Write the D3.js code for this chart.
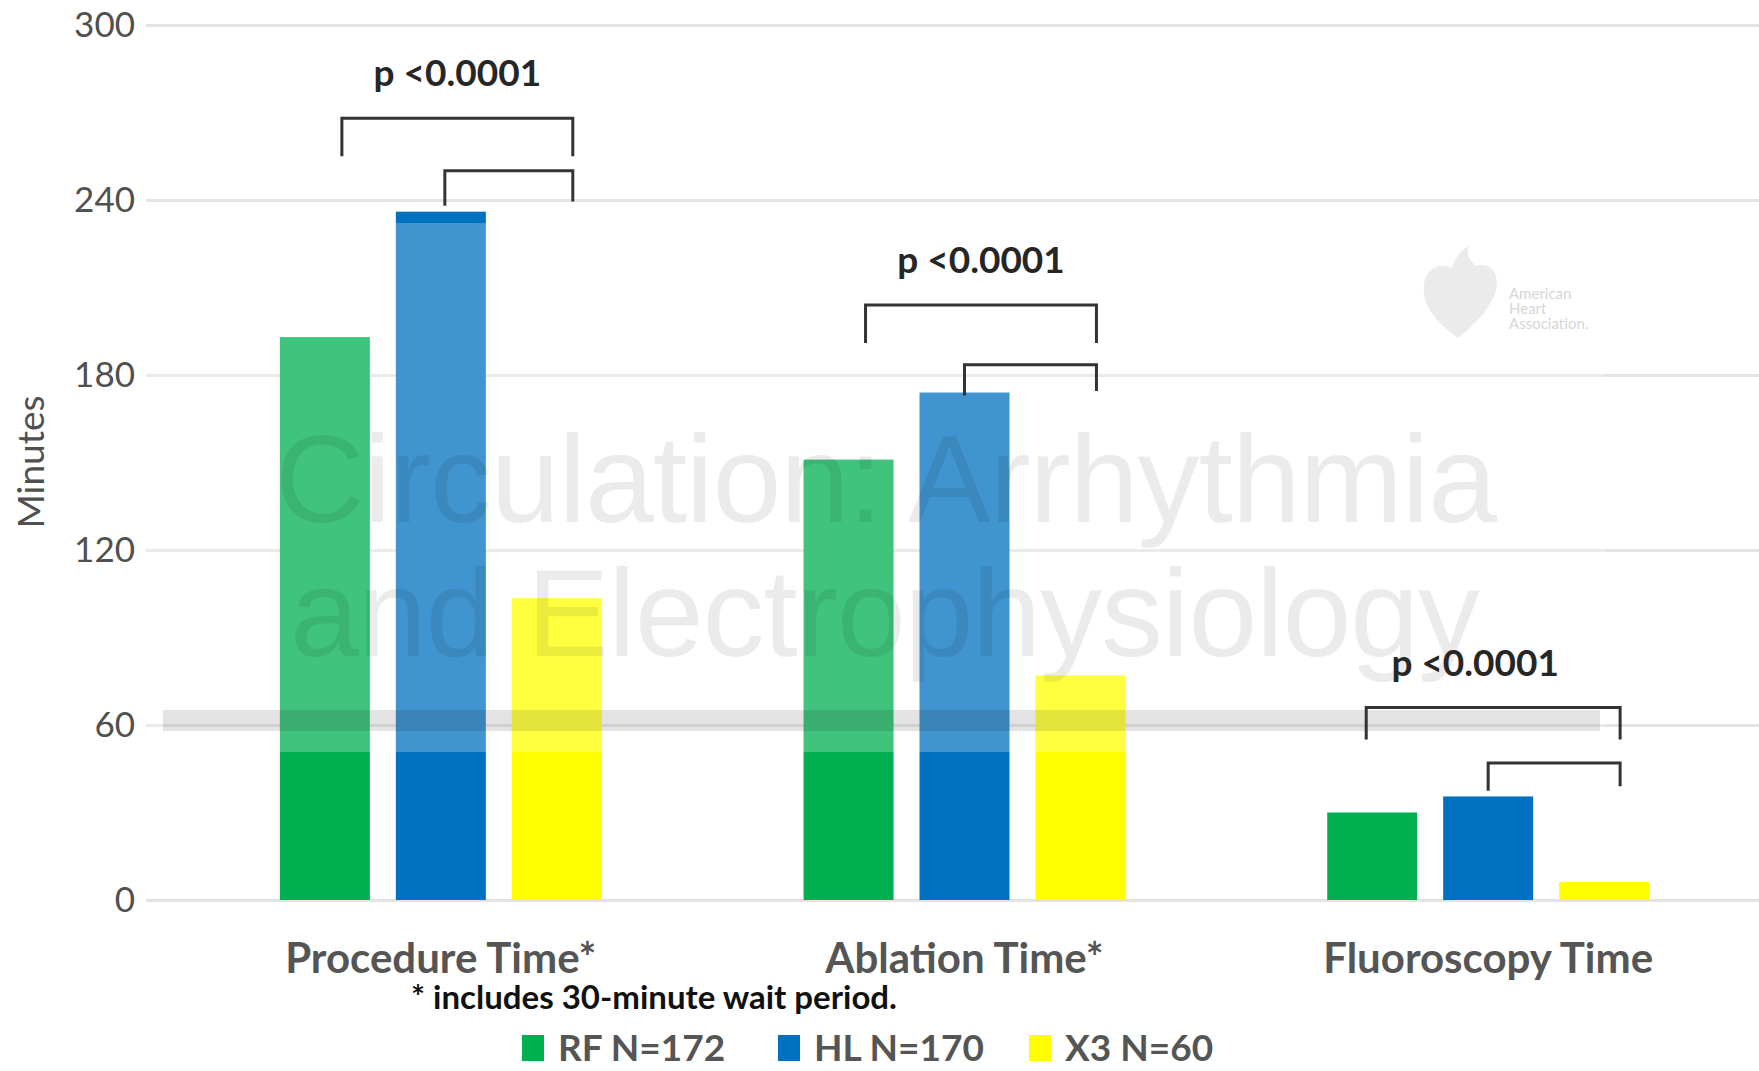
<!DOCTYPE html>
<html>
<head>
<meta charset="utf-8">
<script src="https://cdn.jsdelivr.net/npm/d3@7"></script>
<style>
  body { margin: 0; background: #fff; }
  svg { display: block; font-family: Lato, "Open Sans", sans-serif; }
</style>
</head>
<body>
<script>

var svgWidth = 1759;
var svgHeight = 1071;

// data
var categories = ["Procedure Time*", "Ablation Time*", "Fluoroscopy Time"];
var series = ["RF N=172", "HL N=170", "X3 N=60"];
var rfValues = [193, 151, 30];
var hlValues = [236, 174, 35.5];
var x3Values = [103.5, 77, 6.2];
var yTicks = [0, 60, 120, 180, 240, 300];
var pLabels = ["p <0.0001", "p <0.0001", "p <0.0001"];
// bracket levels in minutes: [outer top, outer foot, inner top, inner foot]
var bracketLevels = [[268, 255, 250, 238], [204, 191, 183.5, 173], [66, 55, 47, 37.5]];

var colors = ["#00b050", "#0070c0", "#ffff00"];

var svg = d3.select("body")
  .append("svg")
  .attr("width", svgWidth)
  .attr("height", svgHeight);

// scales
var yScale = d3.scaleLinear()
  .domain([0, 300])
  .range([900, 25]);

var xScale = d3.scaleBand()
  .domain(categories)
  .range([179, 1750]);

var xInner = d3.scaleBand()
  .domain(series)
  .range([0, xScale.bandwidth()])
  .paddingInner(0.224)
  .paddingOuter(0.87);

// gridlines + tick labels
var yAxis = d3.axisLeft(yScale)
  .tickValues(yTicks)
  .tickSize(-(svgWidth - 146))
  .tickPadding(11);

var gY = svg.append("g")
  .attr("transform", "translate(146,0)")
  .call(yAxis);
gY.select(".domain").remove();
gY.selectAll(".tick line").attr("stroke", "#e3e3e3").attr("stroke-width", 3);
gY.selectAll(".tick text")
  .attr("fill", "#505050")
  .style("font-size", "35px")
  .style("font-family", "Lato, sans-serif");

svg.append("text")
  .attr("transform", "translate(44," + 462 + ") rotate(-90)")
  .attr("text-anchor", "middle")
  .attr("fill", "#505050")
  .style("font-size", "37px")
  .text("Minutes");

// bars
var valuesBySeries = [rfValues, hlValues, x3Values];
var rows = [];
categories.forEach(function(c, i) {
  series.forEach(function(s, j) {
    rows.push({cat: c, ser: s, value: valuesBySeries[j][i], color: colors[j]});
  });
});

svg.append("g").selectAll("rect")
  .data(rows)
  .enter().append("rect")
  .attr("x", function(d) { return xScale(d.cat) + xInner(d.ser); })
  .attr("y", function(d) { return yScale(d.value); })
  .attr("width", xInner.bandwidth())
  .attr("height", function(d) { return yScale(0) - yScale(d.value); })
  .attr("fill", function(d) { return d.color; });

// watermark (journal overlay)
var wm = svg.append("g").attr("pointer-events", "none");
wm.append("rect")
  .attr("x", 146).attr("y", 223).attr("width", 1460).attr("height", 529)
  .attr("fill", "rgba(255,255,255,0.25)");
wm.append("rect")
  .attr("x", 163).attr("y", 710).attr("width", 1437).attr("height", 21)
  .attr("fill", "rgba(0,0,0,0.11)");
wm.append("text")
  .attr("x", 275).attr("y", 522)
  .attr("textLength", 1222)
  .attr("fill", "rgba(0,0,0,0.08)")
  .style("font-family", "'Liberation Sans', Arial, sans-serif")
  .style("font-size", "124px")
  .text("Circulation: Arrhythmia");
wm.append("text")
  .attr("x", 290).attr("y", 656)
  .attr("textLength", 1190)
  .attr("fill", "rgba(0,0,0,0.08)")
  .style("font-family", "'Liberation Sans', Arial, sans-serif")
  .style("font-size", "124px")
  .text("and Electrophysiology");
wm.append("path")
  .attr("d", "M1458,338 C1430,318 1422,300 1424,284 C1426,268 1440,262 1452,268 C1456,256 1462,250 1468,246 C1466,258 1472,262 1476,266 C1488,262 1500,270 1496,290 C1492,306 1478,322 1458,338 Z")
  .attr("fill", "#ebebeb");
["American", "Heart", "Association."].forEach(function(t, i) {
  wm.append("text")
    .attr("x", 1509).attr("y", 299 + i * 15)
    .attr("fill", "#d6d6d6")
    .style("font-size", "15px")
    .text(t);
});

// significance brackets
function barCenter(ci, si) {
  return xScale(categories[ci]) + xInner(series[si]) + xInner.bandwidth() / 2;
}
var br = svg.append("g")
  .attr("fill", "none")
  .attr("stroke", "#333")
  .attr("stroke-width", 3);

var pShift = [0, 0, -18];
categories.forEach(function(c, i) {
  var lv = bracketLevels[i];
  var outerL = i === 2 ? barCenter(i, 0) - 6 : barCenter(i, 0) + 17;
  var outerR = barCenter(i, 2) + 16;
  var innerL = barCenter(i, 1) + (i === 0 ? 4 : 0);
  br.append("path")
    .attr("d", "M" + outerL + "," + yScale(lv[1]) + "V" + yScale(lv[0]) + "H" + outerR + "V" + yScale(lv[1]));
  br.append("path")
    .attr("d", "M" + innerL + "," + yScale(lv[3]) + "V" + yScale(lv[2]) + "H" + outerR + "V" + yScale(lv[3] + 1.5));
  svg.append("text")
    .attr("x", (outerL + outerR) / 2 + pShift[i])
    .attr("y", yScale(lv[0]) - 32)
    .attr("text-anchor", "middle")
    .attr("fill", "#262626")
    .style("font-size", "37px")
    .style("font-weight", "bold")
    .text(pLabels[i]);
});

// category labels
svg.append("g").selectAll("text")
  .data(categories)
  .enter().append("text")
  .attr("x", function(d) { return xScale(d) + xScale.bandwidth() / 2; })
  .attr("y", 973)
  .attr("text-anchor", "middle")
  .attr("fill", "#555")
  .style("font-size", "42px")
  .style("font-weight", "bold")
  .text(function(d) { return d; });

svg.append("text")
  .attr("x", 654)
  .attr("y", 1009)
  .attr("text-anchor", "middle")
  .attr("fill", "#111")
  .style("font-size", "33px")
  .style("font-weight", "bold")
  .text("* includes 30-minute wait period.");

// legend
var legendX = [522, 778, 1029];
var lg = svg.append("g").selectAll("g")
  .data(series)
  .enter().append("g")
  .attr("transform", function(d, i) { return "translate(" + legendX[i] + ",1035)"; });
lg.append("rect")
  .attr("width", 22).attr("height", 26)
  .attr("fill", function(d, i) { return colors[i]; });
lg.append("text")
  .attr("x", 36).attr("y", 26)
  .attr("fill", "#555")
  .style("font-size", "37px")
  .style("font-weight", "bold")
  .text(function(d) { return d; });

</script>
</body>
</html>
